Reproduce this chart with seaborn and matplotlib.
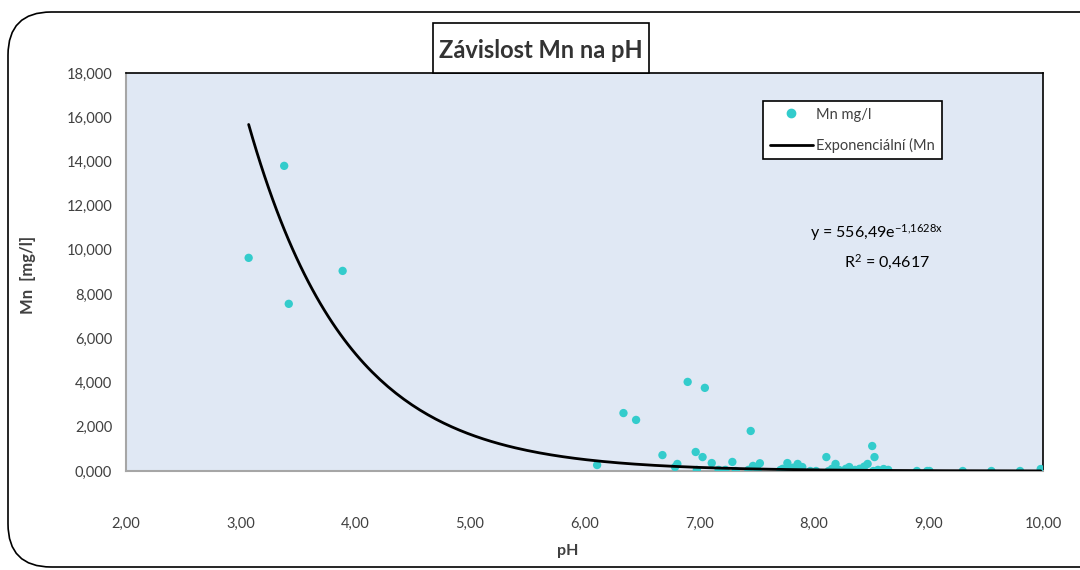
import numpy as np
import pandas as pd
import matplotlib
matplotlib.use("Agg")
import matplotlib.pyplot as plt
import seaborn as sns
from matplotlib import ticker
from matplotlib.patches import FancyBboxPatch
from matplotlib.lines import Line2D

# values
ph = [3.07, 3.38, 3.42, 3.89, 6.11, 6.34, 6.45, 6.68, 6.79, 6.81, 6.90, 6.97,
      6.98, 7.03, 7.05, 7.11, 7.17, 7.23, 7.29, 7.32, 7.43, 7.45, 7.47, 7.51,
      7.53, 7.71, 7.73, 7.75, 7.77, 7.79, 7.82, 7.84, 7.86, 7.90, 7.97, 8.02,
      8.11, 8.13, 8.16, 8.19, 8.22, 8.26, 8.28, 8.31, 8.33, 8.36, 8.40, 8.44,
      8.47, 8.51, 8.52, 8.53, 8.56, 8.61, 8.65, 8.90, 8.99, 9.01, 9.30, 9.55,
      9.80, 9.98]
mn = [9.64, 13.80, 7.56, 9.05, 0.27, 2.62, 2.31, 0.72, 0.18, 0.32, 4.03, 0.86,
      0.05, 0.63, 3.76, 0.36, 0.05, 0.05, 0.41, 0.00, 0.05, 1.81, 0.23, 0.05,
      0.35, 0.05, 0.10, 0.00, 0.36, 0.05, 0.15, 0.05, 0.32, 0.18, 0.00, 0.00,
      0.63, 0.00, 0.10, 0.32, 0.05, 0.00, 0.10, 0.18, 0.00, 0.05, 0.10, 0.20,
      0.32, 1.13, 0.00, 0.63, 0.05, 0.09, 0.05, 0.00, 0.00, 0.00, 0.00, 0.00,
      0.00, 0.09]

# trendline shown on the chart: y = 556,49 e^(-1,1628x)
fit_a = 556.49
fit_b = -1.1628

df = pd.DataFrame({"pH": ph, "Mn": mn})
trend_x = np.linspace(min(ph), max(ph), 200)
trend = pd.DataFrame({"pH": trend_x, "Mn": fit_a * np.exp(fit_b * trend_x)})

sns.set_style("white")
plt.rcParams["font.family"] = ["Lato", "DejaVu Sans"]
plt.rcParams["mathtext.default"] = "regular"

fig = plt.figure(figsize=(10.8, 5.7), dpi=100)
ax = fig.add_axes([126 / 1080, 1 - 471 / 570, (1043 - 126) / 1080, (471 - 73) / 570])
ax.set_facecolor("#E0E8F4")

sns.scatterplot(data=df, x="pH", y="Mn", color="#33CCCC", s=36, edgecolor="none",
                ax=ax, zorder=3)
sns.lineplot(data=trend, x="pH", y="Mn", color="black", linewidth=2, ax=ax, zorder=4)

ax.set_xlim(2, 10)
ax.set_ylim(0, 18)
ax.set_xticks(np.arange(2, 10.5, 1))
ax.set_yticks(np.arange(0, 18.5, 2))
ax.xaxis.set_major_formatter(ticker.FuncFormatter(lambda v, p: f"{v:.2f}".replace(".", ",")))
ax.yaxis.set_major_formatter(ticker.FuncFormatter(lambda v, p: f"{v:.3f}".replace(".", ",")))
ax.tick_params(axis="x", length=0, pad=33, labelsize=10.5, labelcolor="#404040")
ax.tick_params(axis="y", length=0, pad=10, labelsize=10.5, labelcolor="#404040")

for s in ["left", "bottom"]:
    ax.spines[s].set_color("#A6A6A6")
    ax.spines[s].set_linewidth(1.5)
for s in ["top", "right"]:
    ax.spines[s].set_color("black")
    ax.spines[s].set_linewidth(1.2)

ax.set_xlabel("")
ax.set_ylabel("")
fig.text(28 / 1080, 1 - 275 / 570, "Mn  [mg/l]", rotation=90, ha="center", va="center",
         fontsize=12, fontweight="bold", color="#404040")
fig.text(568 / 1080, 1 - 551 / 570, "pH", ha="center", va="center",
         fontsize=11.5, fontweight="bold", color="#404040")

# title in a box
fig.patches.append(plt.Rectangle((433 / 1080, 1 - 73 / 570), (649 - 433) / 1080, 50 / 570,
                                 transform=fig.transFigure, facecolor="white",
                                 edgecolor="black", linewidth=1.2, zorder=5))
fig.text(541 / 1080, 1 - 50 / 570, "Závislost Mn na pH", ha="center", va="center",
         fontsize=17, fontweight="bold", color="#333333", zorder=6)

# legend
handles = [Line2D([], [], marker="o", linestyle="none", color="#33CCCC", markersize=6),
           Line2D([], [], color="black", linewidth=2)]
leg = fig.legend(handles, ["Mn mg/l", "Exponenciální (Mn"], loc="upper left",
                 bbox_to_anchor=(763 / 1080, 1 - 101 / 570), fontsize=10.5,
                 frameon=True, fancybox=False, framealpha=1, edgecolor="black",
                 labelspacing=1.1, handlelength=3, handletextpad=0.2,
                 borderpad=0.45, borderaxespad=0)
leg.get_frame().set_linewidth(1.2)
for t in leg.get_texts():
    t.set_color("#404040")

fig.text(877 / 1080, 1 - 233 / 570, "y = 556,49e$^{-1{,}1628x}$", ha="center", va="center",
         fontsize=11.5, color="black")
fig.text(887 / 1080, 1 - 262 / 570, "R$^{2}$ = 0,4617", ha="center", va="center",
         fontsize=11.5, color="black")

# rounded chart border, right side runs off the canvas
fig.patches.append(FancyBboxPatch((8 / 1080, 1 - 567 / 570), 1120 / 1080, 555 / 570,
                                  boxstyle="round,pad=0,rounding_size=0.04",
                                  transform=fig.transFigure, facecolor="none",
                                  edgecolor="black", linewidth=1.2, zorder=0,
                                  mutation_aspect=1080 / 570))

fig.savefig("out.png", dpi=100)
